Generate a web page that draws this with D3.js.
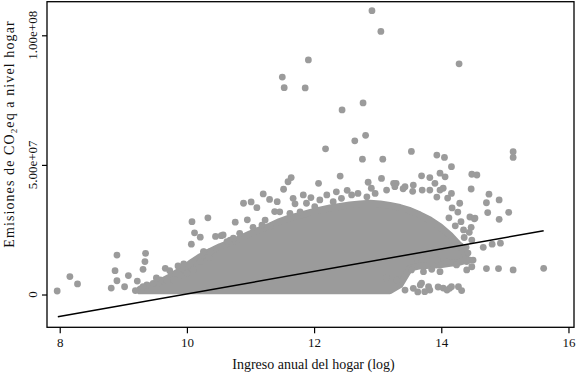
<!DOCTYPE html>
<html>
<head>
<meta charset="utf-8">
<script src="https://cdn.jsdelivr.net/npm/d3@7"></script>
<style>
  body { margin: 0; background: #fff; }
  text { font-family: 'Liberation Serif'; }
</style>
</head>
<body>
<svg width="582" height="376"></svg>
<script>
// ingreso (log) and emisiones (millones de CO2eq) of the individual households
var ingreso = [
  12.91, 13.05, 11.91, 11.50, 11.53, 11.86, 14.28, 12.77, 12.44, 12.81, 12.64, 12.18,
  13.53, 13.93, 14.05, 14.16, 15.13, 15.13, 14.48, 14.56, 14.47, 14.75, 14.71, 14.91,
  14.73, 15.06, 14.91, 14.29, 14.66, 14.80, 14.93, 14.71, 14.90, 15.13, 15.61, 14.47,
  14.52, 14.13, 14.27, 14.03, 13.69, 13.82, 7.96, 8.16, 8.28, 8.90, 9.35, 8.87,
  9.08, 8.90, 9.22, 9.31, 9.02, 8.81, 9.19, 9.37, 9.66, 9.73, 10.08, 10.33,
  10.12, 10.21, 10.07, 10.54, 10.27, 10.37, 10.35, 11.20, 10.89, 11.01, 11.10, 10.76,
  9.34, 9.86, 12.76, 13.08, 11.64, 11.59, 12.41, 12.07, 12.85, 13.06, 13.25, 11.52,
  11.30, 11.42, 11.67, 11.83, 11.18, 13.56, 13.67, 13.74, 13.80, 14.09, 14.16, 14.32,
  13.14, 13.30, 13.93, 14.09, 14.24, 14.40, 14.48, 14.50, 13.61, 13.77, 13.53, 13.72,
  13.85, 13.98, 14.48, 14.39, 14.40, 14.45, 14.31, 14.35, 13.69, 13.82, 13.98, 14.06,
  13.29, 13.43, 13.56, 13.90, 14.03, 14.16, 12.20, 12.30, 12.43, 12.59, 12.69, 12.83,
  12.96, 13.14, 13.27, 11.88, 12.01, 12.09, 11.46, 11.62, 11.78, 11.23, 11.31, 11.04,
  10.83, 10.68, 10.57, 10.63, 10.73, 10.26, 10.21, 10.10, 10.00, 9.89, 9.79, 9.68,
  9.58, 9.47, 9.31, 13.43, 13.95, 13.63, 13.70, 13.82, 13.98, 13.93, 14.10, 14.17,
  14.26, 14.45, 14.53, 12.35, 12.52, 12.90, 13.40, 13.55, 11.95, 11.70, 11.38, 10.95,
  10.45, 9.95, 9.52, 14.22, 14.36, 14.42, 14.30, 14.12, 14.44
];
var emisiones = [
  109.5, 101.5, 90.5, 83.9, 79.8, 79.7, 89.0, 73.9, 71.2, 61.4, 59.3, 56.2,
  55.2, 53.8, 52.9, 49.3, 55.1, 52.9, 46.4, 46.1, 40.7, 38.7, 35.4, 36.5,
  31.6, 31.7, 29.0, 35.2, 18.2, 19.4, 19.8, 10.0, 10.0, 9.5, 10.1, 25.9,
  29.2, 2.4, 3.0, 2.5, 4.4, 1.7, 1.35, 6.9, 4.1, 15.2, 15.9, 9.2,
  7.3, 5.3, 5.2, 9.7, 3.0, 2.5, 1.5, 3.7, 10.1, 9.2, 28.1, 29.6,
  23.8, 22.1, 19.4, 22.7, 16.4, 16.5, 14.2, 38.8, 35.2, 35.7, 33.5, 27.9,
  12.7, 11.0, 52.2, 52.2, 45.1, 43.5, 45.7, 42.9, 43.3, 44.8, 42.9, 40.6,
  36.7, 35.8, 37.1, 38.4, 26.8, 2.4, 3.7, 1.1, 3.0, 1.7, 3.0, 1.5,
  6.3, 5.6, 13.3, 12.7, 11.4, 12.7, 10.7, 13.3, 14.0, 14.6, 9.5, 8.8,
  9.7, 8.8, 21.0, 18.2, 9.5, 13.3, 28.1, 24.9, 45.8, 45.1, 46.8, 45.4,
  42.9, 41.6, 42.2, 42.9, 41.0, 39.0, 38.4, 35.8, 37.1, 38.4, 39.0, 37.7,
  39.0, 40.3, 41.6, 35.2, 33.9, 36.5, 31.9, 31.3, 31.9, 28.7, 26.2, 25.9,
  23.6, 21.0, 23.0, 20.4, 21.7, 16.5, 12.7, 9.5, 8.2, 7.5, 5.6, 5.6,
  5.6, 4.3, 3.0, 1.7, 2.9, 1.0, 40.3, 40.3, 40.3, 37.6, 37.2, 33.4,
  31.8, 29.9, 29.5, 39.6, 40.2, 41.0, 40.8, 39.8, 37.4, 35.0, 32.0, 28.8,
  22.4, 11.8, 6.4, 26.5, 22.0, 16.0, 18.8, 29.6, 24.0
];

// overplotted core of the cloud: upper and lower edge
var nucleoX = [9.26, 9.42, 9.58, 9.73, 9.89, 10.05, 10.21, 10.36, 10.52, 10.68, 10.83, 10.99,
  11.15, 11.30, 11.46, 11.62, 11.78, 11.93, 12.09, 12.25, 12.41, 12.56, 12.72, 12.88,
  13.04, 13.19, 13.35, 13.51, 13.66, 13.82, 13.98, 14.14, 14.30, 14.39];
var nucleoTop = [2.1, 3.3, 4.8, 6.8, 9.2, 12.0, 14.6, 16.6, 18.5, 20.0, 21.6, 23.4,
  25.0, 26.4, 28.2, 29.6, 30.6, 31.6, 32.6, 33.4, 34.0, 34.6, 35.0, 35.2,
  35.0, 34.4, 33.6, 32.4, 30.8, 28.8, 26.2, 22.8, 18.6, 15.2];
var nucleoBottom = [1.4, 1.4, 1.4, 1.4, 1.4, 1.4, 1.4, 1.4, 1.4, 1.4, 1.4, 1.4,
  1.4, 1.4, 1.4, 1.4, 1.4, 1.4, 1.4, 1.4, 1.4, 1.4, 1.4, 1.4,
  1.4, 1.4, 3.7, 10.2, 11.0, 11.2, 11.4, 12.0, 12.5, 13.2];

// fitted line
var ajusteX = [7.97, 15.61];
var ajusteY = [-8.6, 24.6];

var xTicks = [8, 10, 12, 14, 16];
var yTicks = [0, 50, 100];
var yTickLabels = ["0", "5.00e+07", "1.00e+08"];

var svg = d3.select("svg"),
    margin = {top: 1.7, left: 47},
    width = 527,
    height = 325.6,
    gris = "#9b9b9b",
    fuente = "Liberation Serif";

var x = d3.scaleLinear().domain([7.80, 16.087]).range([0, width]);
var y = d3.scaleLinear().domain([-12.65, 112.96]).range([height, 0]);

var chart = svg.append("g")
    .attr("transform", "translate(" + margin.left + "," + margin.top + ")");

// dense core
var core = nucleoX.map(function(d, i) { return {x: d, lo: nucleoBottom[i], hi: nucleoTop[i]}; });
chart.append("path")
    .datum(core)
    .attr("fill", gris)
    .attr("stroke", gris)
    .attr("stroke-width", 6.8)
    .attr("stroke-linejoin", "round")
    .attr("d", d3.area()
      .x(function(d) { return x(d.x); })
      .y0(function(d) { return y(d.lo); })
      .y1(function(d) { return y(d.hi); }));

// points
chart.selectAll(".pt")
    .data(ingreso)
  .enter().append("circle")
    .attr("class", "pt")
    .attr("cx", function(d) { return x(d); })
    .attr("cy", function(d, i) { return y(emisiones[i]); })
    .attr("r", 3.4)
    .attr("fill", gris);

// fitted line
chart.append("path")
    .datum(ajusteX.map(function(d, i) { return [d, ajusteY[i]]; }))
    .attr("fill", "none")
    .attr("stroke", "#000")
    .attr("stroke-width", 1.5)
    .attr("d", d3.line()
      .x(function(d) { return x(d[0]); })
      .y(function(d) { return y(d[1]); }));

// frame
chart.append("rect")
    .attr("width", width)
    .attr("height", height)
    .attr("fill", "none")
    .attr("stroke", "#000")
    .attr("stroke-width", 1.3);

// x-axis
var xAxis = chart.append("g")
    .attr("transform", "translate(0," + height + ")")
    .call(d3.axisBottom(x).tickValues(xTicks).tickSize(6).tickPadding(4.8).tickSizeOuter(0));
xAxis.select(".domain").remove();
xAxis.selectAll("line").attr("stroke", "#000").attr("stroke-width", 1.2);
xAxis.attr("font-family", null).attr("font-size", 13);
xAxis.selectAll("text").attr("fill", "#111").style("font-family", fuente);

// y-axis
var yAxis = chart.append("g")
    .call(d3.axisLeft(y).tickValues(yTicks).tickSize(5).tickSizeOuter(0).tickFormat(""));
yAxis.select(".domain").remove();
yAxis.attr("font-family", null);
yAxis.selectAll("line").attr("stroke", "#000").attr("stroke-width", 1.2);
yAxis.selectAll(".ytl")
    .data(yTicks)
  .enter().append("text")
    .attr("class", "ytl")
    .attr("transform", function(d) { return "translate(-10," + y(d) + ") rotate(-90)"; })
    .attr("text-anchor", "middle")
    .style("font-family", fuente)
    .attr("font-size", 13)
    .attr("fill", "#111")
    .text(function(d, i) { return yTickLabels[i]; });

// axis titles
svg.append("text")
    .attr("x", 313.5)
    .attr("y", 369)
    .attr("text-anchor", "middle")
    .style("font-family", fuente)
    .attr("font-size", 14)
    .attr("fill", "#111")
    .text("Ingreso anual del hogar (log)");

var yt = svg.append("text")
    .attr("transform", "translate(13.5,134) rotate(-90)")
    .attr("text-anchor", "middle")
    .style("font-family", fuente)
    .attr("font-size", 14)
    .attr("fill", "#111")
    .attr("letter-spacing", 1.1);
yt.append("tspan").text("Emisiones de CO");
yt.append("tspan").attr("font-size", 9).attr("dy", 3).text("2");
yt.append("tspan").attr("dy", -3).text("eq a nivel hogar");
</script>
</body>
</html>
